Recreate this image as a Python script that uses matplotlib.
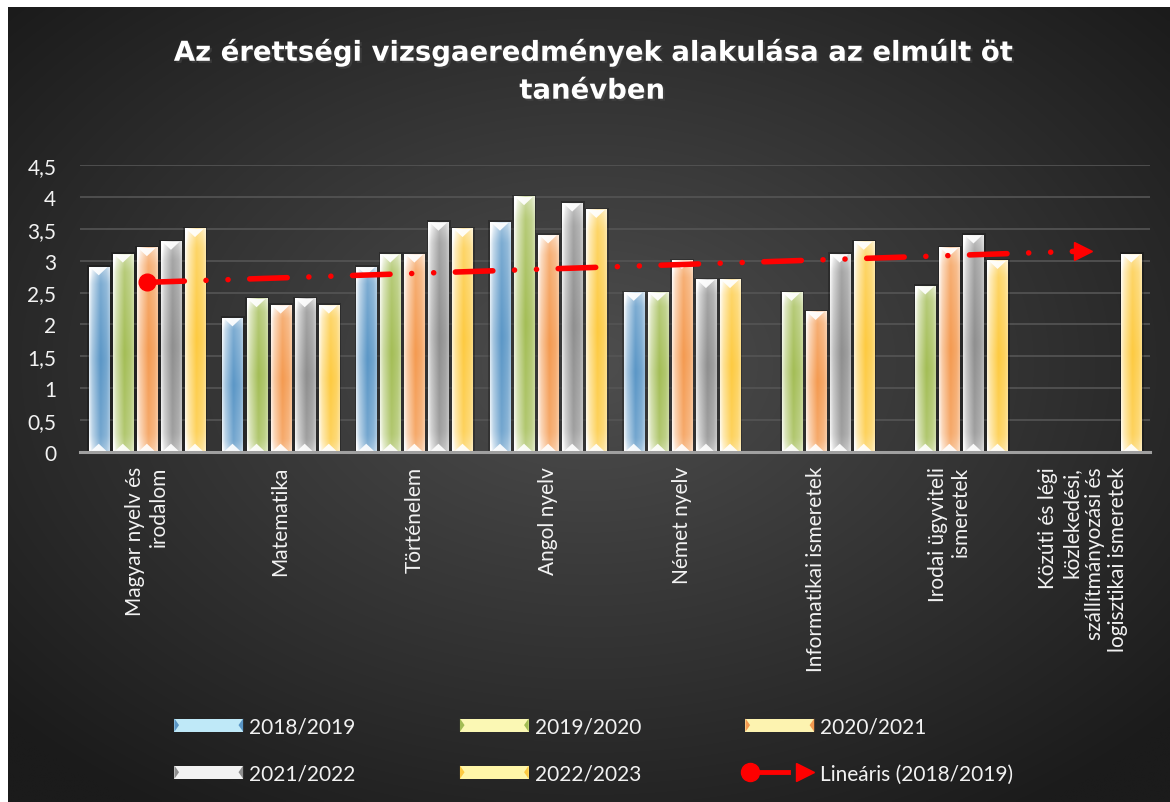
import numpy as np
import matplotlib
matplotlib.use("Agg")
import matplotlib.pyplot as plt
import matplotlib.patheffects as pe
from matplotlib.patches import Rectangle, Polygon, Patch
from matplotlib.lines import Line2D
from matplotlib.legend_handler import HandlerBase
from matplotlib.colors import to_rgb

plt.rcParams['font.family'] = ['Lato', 'DejaVu Sans']

categories = ["Magyar nyelv és\nirodalom", "Matematika", "Történelem", "Angol nyelv",
              "Német nyelv", "Informatikai ismeretek", "Irodai ügyviteli\nismeretek",
              "Közúti és légi\nközlekedési,\nszállítmányozási és\nlogisztikai ismeretek"]
years = ["2018/2019", "2019/2020", "2020/2021", "2021/2022", "2022/2023"]
nan = np.nan
v2018 = [2.9, 2.1, 2.9, 3.6, 2.5, nan, nan, nan]
v2019 = [3.1, 2.4, 3.1, 4.0, 2.5, 2.5, 2.6, nan]
v2020 = [3.2, 2.3, 3.1, 3.4, 3.0, 2.2, 3.2, nan]
v2021 = [3.3, 2.4, 3.6, 3.9, 2.7, 3.1, 3.4, nan]
v2022 = [3.5, 2.3, 3.5, 3.8, 2.7, 3.3, 3.0, 3.1]
series = [v2018, v2019, v2020, v2021, v2022]
yticks = [0, 0.5, 1, 1.5, 2, 2.5, 3, 3.5, 4, 4.5]
ytick_labels = ["0", "0,5", "1", "1,5", "2", "2,5", "3", "3,5", "4", "4,5"]

base_cols = ['#5a96c6', '#a3bd55', '#f49a50', '#8e8e8e', '#fdca40']
legend_fill = ['#bfe9f8', '#fbf8b4', '#fdf3b0', '#f2f2f2', '#fff6a8']
trend_label = "Lineáris (2018/2019)"

W, H = 1170, 803
fig = plt.figure(figsize=(W / 100, H / 100), dpi=100)

# dark radial background
bg = fig.add_axes([8 / W, 0, 1 - 8 / W, 1 - 8 / H], zorder=-10)
gx, gy = np.meshgrid(np.linspace(-1, 1, 400), np.linspace(-1, 1, 300))
r = np.clip(np.sqrt(gx ** 2 + (gy + 0.1) ** 2) / 1.35, 0, 1)
c0, c1 = np.array(to_rgb('#4e4e4e')), np.array(to_rgb('#1b1b1b'))
img = c0 * (1 - r[..., None]) + c1 * r[..., None]
bg.imshow(img, aspect='auto', extent=[0, 1, 0, 1], interpolation='bilinear')
bg.axis('off')

ax = fig.add_axes([80 / W, 1 - 453 / H, (1150 - 80) / W, (453 - 166) / H])
ax.set_facecolor('none')

x = np.arange(len(categories))
bw, step = 0.15, 0.18


def bar_image(col):
    xs = np.linspace(0, 1, 40)
    ys = np.linspace(0, 1, 60)
    fx = np.interp(xs, [0, 0.15, 0.55, 0.85, 1], [0.75, 0.45, 0.0, 0.15, 0.35])
    fy = np.interp(ys, [0, 0.08, 0.5, 0.92, 1], [0.35, 0.15, 0.0, 0.2, 0.45])
    t = np.clip(fx[None, :] + fy[:, None], 0, 1)[..., None]
    base = np.array(to_rgb(col))
    return base * (1 - t) + np.ones(3) * t


th = 0.13
for i, vals in enumerate(series):
    bars = ax.bar(x + (i - 2) * step, vals, bw, color=base_cols[i], zorder=2,
                  edgecolor='none')
    im = bar_image(base_cols[i])
    for b in bars:
        h = b.get_height()
        if np.isnan(h):
            continue
        x0, w = b.get_x(), b.get_width()
        ax.add_patch(Rectangle((x0 - 0.012, -0.02), w + 0.03, h + 0.05, color='black',
                               alpha=0.25, zorder=1.5, lw=0))
        ax.imshow(im, extent=[x0, x0 + w, 0, h], aspect='auto', origin='lower',
                  interpolation='bilinear', zorder=2.1)
        xc = x0 + w / 2
        ax.add_patch(Polygon([(x0 + 0.06 * w, h), (x0 + 0.94 * w, h), (xc, h - th)],
                             color='white', alpha=0.92, zorder=2.2, lw=0))
        ax.add_patch(Polygon([(x0 + 0.06 * w, 0), (x0 + 0.94 * w, 0), (xc, th)],
                             color='white', alpha=0.92, zorder=2.2, lw=0))

# linear trendline of 2018/2019
known = ~np.isnan(v2018)
k, b0 = np.polyfit(x[known] + 1, np.array(v2018)[known], 1)
trend = k * (x + 1) + b0
ax.plot(x, trend, color='red', lw=4, dashes=[6.75, 3.9, 0.01, 3.95, 0.01, 3.9],
        dash_capstyle='round', zorder=4)
ax.plot(x[0], trend[0], 'o', color='red', ms=12, zorder=5)
ax.plot(x[-1], trend[-1], '>', color='red', ms=13, zorder=5)

ax.set_xlim(-0.5, 7.5)
ax.set_ylim(0, 4.5)
ax.set_yticks(yticks)
ax.set_yticklabels(ytick_labels)
ax.set_xticks(x)
ax.set_xticklabels(categories, rotation=90, va='top', ha='center',
                   multialignment='right')
ax.tick_params(axis='x', length=0, pad=10, labelsize=15, labelcolor='#f2f2f2')
ax.tick_params(axis='y', length=0, pad=17, labelsize=15, labelcolor='#f2f2f2')
ax.grid(axis='y', color='#555555', lw=1.2, zorder=0)
ax.set_axisbelow(True)
for s in ['left', 'right', 'top']:
    ax.spines[s].set_visible(False)
ax.spines['bottom'].set_color('#a0a0a0')
ax.spines['bottom'].set_linewidth(2.2)
ax.spines['bottom'].set_zorder(3)

fig.text(592 / W, 1 - 72 / H,
         "Az érettségi vizsgaeredmények alakulása az elmúlt öt\ntanévben",
         ha='center', va='center', color='white', fontsize=19.8, fontweight='bold',
         family='DejaVu Sans', linespacing=1.45,
         path_effects=[pe.withSimplePatchShadow(offset=(1.5, -1.5), alpha=0.5)])


class BevelHandler(HandlerBase):
    def create_artists(self, legend, orig, xd, yd, width, height, fontsize, trans):
        fill = orig.get_facecolor()
        tip = orig.get_edgecolor()
        rect = Rectangle((-xd, -yd), width, height, facecolor=fill, lw=0, transform=trans)
        tw = height * 0.35
        t1 = Polygon([(-xd, -yd), (-xd + tw, -yd + height / 2), (-xd, -yd + height)],
                     facecolor=tip, lw=0, transform=trans)
        t2 = Polygon([(-xd + width, -yd), (-xd + width - tw, -yd + height / 2),
                      (-xd + width, -yd + height)], facecolor=tip, lw=0, transform=trans)
        return [rect, t1, t2]


class TrendHandler(HandlerBase):
    def create_artists(self, legend, orig, xd, yd, width, height, fontsize, trans):
        yc = -yd + height / 2
        ln = Line2D([-xd + 3, -xd + width * 0.62], [yc, yc], color='red', lw=3.5,
                    transform=trans)
        dot = Line2D([-xd + 3], [yc], marker='o', ms=13, color='red', ls='none',
                     transform=trans)
        tri = Line2D([-xd + width * 0.86], [yc], marker='>', ms=13, color='red',
                     ls='none', transform=trans)
        return [ln, dot, tri]


handles = [Patch(facecolor=legend_fill[i], edgecolor=base_cols[i]) for i in range(5)]
trend_handle = Line2D([], [], color='red')
order_h = [handles[0], handles[3], handles[1], handles[4], handles[2], trend_handle]
order_l = [years[0], years[3], years[1], years[4], years[2], trend_label]
hmap = {h: BevelHandler() for h in handles}
hmap[trend_handle] = TrendHandler()
leg = fig.legend(order_h, order_l, ncol=3, loc='center',
                 bbox_to_anchor=(594 / W, 1 - 751 / H), frameon=False, fontsize=15,
                 handlelength=3.3, handleheight=0.6, handletextpad=0.3,
                 columnspacing=5.0, labelspacing=1.3, handler_map=hmap,
                 labelcolor='#f2f2f2')

fig.savefig('out.png', dpi=100)
